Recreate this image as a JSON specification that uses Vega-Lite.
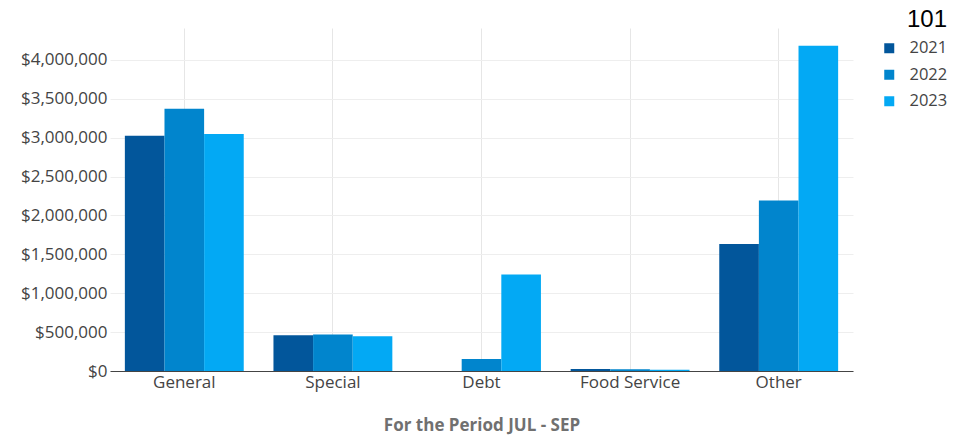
{
  "$schema": "https://vega.github.io/schema/vega-lite/v6.json",
  "width": 743,
  "height": 343,
  "autosize": "none",
  "padding": {"left": 110, "top": 28, "right": 122, "bottom": 67},
  "background": "#ffffff",
  "data": {
    "values": [
      {"category": "General", "year": "2021", "amount": 3025000},
      {"category": "General", "year": "2022", "amount": 3372000},
      {"category": "General", "year": "2023", "amount": 3046000},
      {"category": "Special", "year": "2021", "amount": 459000},
      {"category": "Special", "year": "2022", "amount": 468000},
      {"category": "Special", "year": "2023", "amount": 447000},
      {"category": "Debt", "year": "2021", "amount": 0},
      {"category": "Debt", "year": "2022", "amount": 154000},
      {"category": "Debt", "year": "2023", "amount": 1241000},
      {"category": "Food Service", "year": "2021", "amount": 26000},
      {"category": "Food Service", "year": "2022", "amount": 22000},
      {"category": "Food Service", "year": "2023", "amount": 15000},
      {"category": "Other", "year": "2021", "amount": 1634000},
      {"category": "Other", "year": "2022", "amount": 2193000},
      {"category": "Other", "year": "2023", "amount": 4183000}
    ]
  },
  "mark": {"type": "bar"},
  "encoding": {
    "x": {
      "field": "category",
      "type": "nominal",
      "sort": ["General", "Special", "Debt", "Food Service", "Other"],
      "scale": {"paddingInner": 0.2, "paddingOuter": 0.1},
      "axis": {
        "title": "For the Period JUL - SEP",
        "labelAngle": 0,
        "bandPosition": 0.5,
        "grid": true,
        "gridColor": "#e6e6e6",
        "ticks": false,
        "domainColor": "#444444",
        "labelFont": "Open Sans",
        "labelFontSize": 17,
        "labelColor": "#444444",
        "labelPadding": 3,
        "titleFont": "Open Sans",
        "titleFontWeight": "bold",
        "titleFontSize": 17,
        "titleColor": "#707070",
        "titlePadding": 27
      }
    },
    "xOffset": {"field": "year", "type": "nominal", "sort": ["2021", "2022", "2023"]},
    "y": {
      "field": "amount",
      "type": "quantitative",
      "scale": {"domain": [0, 4410000], "nice": false},
      "axis": {
        "title": null,
        "format": "$,.0f",
        "values": [0, 500000, 1000000, 1500000, 2000000, 2500000, 3000000, 3500000, 4000000],
        "grid": true,
        "gridColor": "#eeeeee",
        "domain": false,
        "ticks": false,
        "labelFont": "Open Sans",
        "labelFontSize": 17,
        "labelColor": "#444444",
        "labelPadding": 3
      }
    },
    "color": {
      "field": "year",
      "type": "nominal",
      "scale": {"domain": ["2021", "2022", "2023"], "range": ["#02569b", "#0185cd", "#03a9f4"]},
      "legend": {
        "orient": "none",
        "legendX": 771,
        "legendY": -20,
        "padding": 0,
        "title": "101",
        "titleFont": "Liberation Sans",
        "titleFontSize": 24,
        "titleFontWeight": "normal",
        "titleColor": "#000000",
        "titleAnchor": "end",
        "titlePadding": 8,
        "symbolType": "square",
        "symbolSize": 100,
        "symbolStrokeWidth": 0,
        "labelFont": "Open Sans",
        "labelFontSize": 16.5,
        "labelColor": "#444444",
        "labelOffset": 12,
        "rowPadding": 9.5
      }
    }
  },
  "config": {"view": {"stroke": null}}
}
